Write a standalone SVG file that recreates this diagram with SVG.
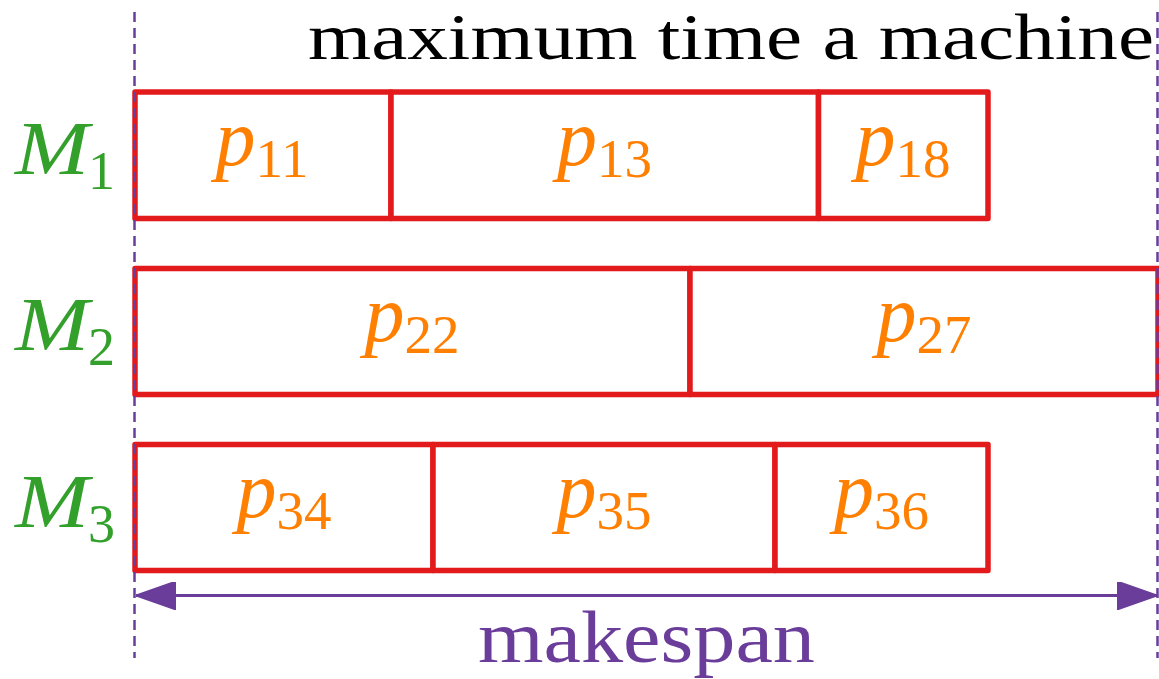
<svg xmlns="http://www.w3.org/2000/svg" width="1159" height="679" viewBox="0 0 1159 679">
  <style>
    .job { fill: #ffffff; stroke: #e31a1c; stroke-width: 5.5; stroke-linejoin: round; }
    .plab { font-family: "Liberation Serif", serif; fill: #ff7f00; text-anchor: middle; }
    .pv { font-style: italic; font-size: 80px; }
    .ps { font-size: 55px; }
    .mlab { font-family: "Liberation Serif", serif; fill: #33a02c; }
    .mv { font-style: italic; font-size: 76px; }
    .ms { font-size: 54px; }
    .guide { stroke: #6a3d9a; stroke-width: 2.5; stroke-dasharray: 10 6; fill: none; }
    .span { stroke: #6a3d9a; stroke-width: 3; fill: none; }
    .title { font-family: "Liberation Serif", serif; font-size: 66px; fill: #000000; }
    .mk { font-family: "Liberation Serif", serif; font-size: 74px; fill: #6a3d9a; }
  </style>
  <defs>
    <marker id="ah" viewBox="0 0 40 28" refX="40" refY="14" markerWidth="40" markerHeight="28" markerUnits="userSpaceOnUse" orient="auto-start-reverse">
      <path d="M0,0 L40,14 L0,28 Z" fill="#6a3d9a" stroke="#6a3d9a" stroke-width="2" stroke-linejoin="round"/>
    </marker>
  </defs>
  <rect width="1159" height="679" fill="#ffffff"/>

  <g id="title">
    <text class="title" x="308" y="59" textLength="846" lengthAdjust="spacingAndGlyphs">maximum time a machine</text>
  </g>

  <g id="M1"><text class="mlab" x="15" y="174"><tspan class="mv" textLength="74" lengthAdjust="spacingAndGlyphs">M</tspan></text><text class="mlab ms" x="88" y="189">1</text></g>
  <g id="M2"><text class="mlab" x="15" y="350"><tspan class="mv" textLength="74" lengthAdjust="spacingAndGlyphs">M</tspan></text><text class="mlab ms" x="88" y="365">2</text></g>
  <g id="M3"><text class="mlab" x="15" y="527"><tspan class="mv" textLength="74" lengthAdjust="spacingAndGlyphs">M</tspan></text><text class="mlab ms" x="88" y="542">3</text></g>

  <g id="p11"><rect class="job" x="135" y="92" width="256" height="126.5"/><text class="plab" x="262" y="165"><tspan class="pv">p</tspan><tspan class="ps" dy="12">11</tspan></text></g>
  <g id="p13"><rect class="job" x="391" y="92" width="427.5" height="126.5"/><text class="plab" x="604.5" y="165"><tspan class="pv">p</tspan><tspan class="ps" dy="12">13</tspan></text></g>
  <g id="p18"><rect class="job" x="818.5" y="92" width="169.5" height="126.5"/><text class="plab" x="903" y="165"><tspan class="pv">p</tspan><tspan class="ps" dy="12">18</tspan></text></g>

  <g id="p22"><rect class="job" x="135" y="268.5" width="555" height="126"/><text class="plab" x="412" y="341"><tspan class="pv">p</tspan><tspan class="ps" dy="12">22</tspan></text></g>
  <g id="p27"><rect class="job" x="690" y="268.5" width="468" height="126"/><text class="plab" x="924" y="341"><tspan class="pv">p</tspan><tspan class="ps" dy="12">27</tspan></text></g>

  <g id="p34"><rect class="job" x="135" y="444.5" width="298" height="126"/><text class="plab" x="284" y="517"><tspan class="pv">p</tspan><tspan class="ps" dy="12">34</tspan></text></g>
  <g id="p35"><rect class="job" x="433" y="444.5" width="342" height="126"/><text class="plab" x="604" y="517"><tspan class="pv">p</tspan><tspan class="ps" dy="12">35</tspan></text></g>
  <g id="p36"><rect class="job" x="775" y="444.5" width="213" height="126"/><text class="plab" x="881.5" y="517"><tspan class="pv">p</tspan><tspan class="ps" dy="12">36</tspan></text></g>

  <g id="connectors">
    <line class="guide" x1="134.5" y1="12" x2="134.5" y2="658"/>
    <line class="guide" x1="1157.5" y1="12" x2="1157.5" y2="658"/>
    <line class="span" x1="136" y1="595.5" x2="1157" y2="595.5" marker-start="url(#ah)" marker-end="url(#ah)"/>
  </g>

  <g id="makespan">
    <text class="mk" x="478" y="662" textLength="337" lengthAdjust="spacingAndGlyphs">makespan</text>
  </g>
</svg>
